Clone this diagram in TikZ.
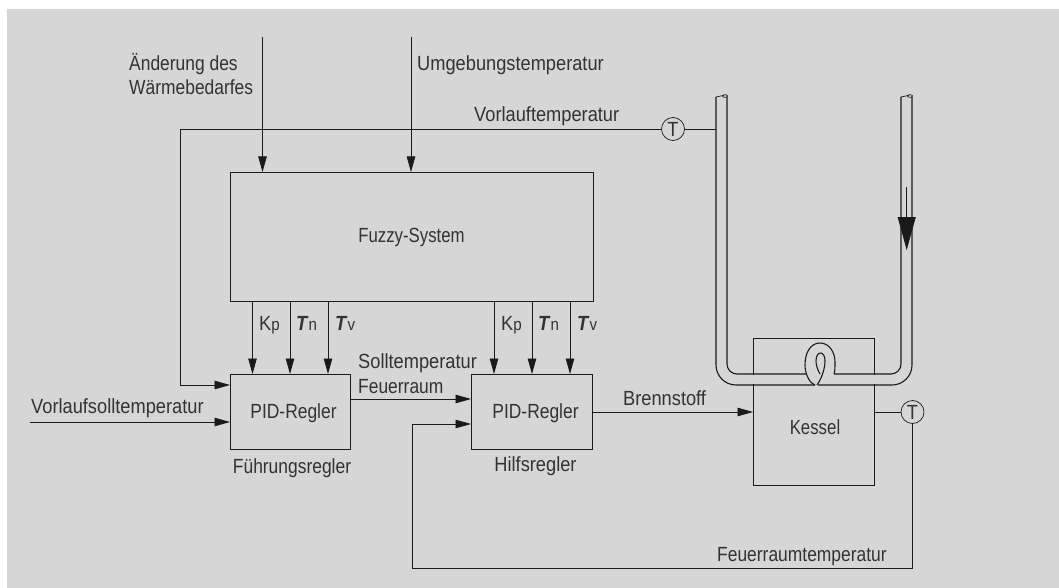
\documentclass[tikz,border=0pt]{standalone}
\usepackage{fontspec}
\setmainfont[FakeStretch=0.89]{Liberation Sans}
\newfontfamily\fmid[FakeStretch=0.85]{Liberation Sans}
\newfontfamily\fnar[FakeStretch=0.82]{Liberation Sans}
\usetikzlibrary{arrows.meta}
\definecolor{bggray}{HTML}{D6D6D6}
\definecolor{ink}{HTML}{1A1A1A}
\definecolor{txt}{HTML}{333333}
\tikzset{
  x=1pt,y=-1pt,
  block/.style={draw=ink,line width=1.1pt,inner sep=0pt,anchor=north west},
  conn/.style={draw=ink,line width=0.8pt},
  arr/.style={conn,-{Triangle[length=15.5pt,width=8.5pt]}},
  pipe/.style={draw=ink,line width=1.1pt},
  lbl/.style={text=txt,anchor=base west,inner sep=0pt,font=\fontsize{20.5}{22}\selectfont},
  clbl/.style={lbl,anchor=base},
  sensor/.style={circle,draw=ink,line width=0.7pt,minimum size=23pt,inner sep=0pt,text=txt,font=\fontsize{20.5}{22}\selectfont},
}
\newcommand{\Ti}[1]{\textbf{\textit{T}}{\fontsize{17}{17}\selectfont #1}}
\newcommand{\Kp}{K{\fontsize{17}{17}\selectfont p}}
\begin{document}
\begin{tikzpicture}
\useasboundingbox (0,0) rectangle (1059,588);
\fill[white] (0,0) rectangle (1059,588);
\fill[bggray] (7,9) rectangle (1059,588);
% blocks
\node[block,minimum width=363pt,minimum height=129pt] (fuzzy) at (230,172) {};
\node[block,minimum width=120pt,minimum height=75pt] (pid1) at (230,374) {};
\node[block,minimum width=121pt,minimum height=75pt] (pid2) at (471,374) {};
\node[block,minimum width=121pt,minimum height=147pt] (kessel) at (753,338) {};
\node[clbl] (fuzzytxt) at (411.5,242.5) {\fnar Fuzzy-System};
\node[clbl] (pid1txt) at (293.5,418) {\fmid PID-Regler};
\node[clbl] (pid2txt) at (535.5,418) {\fmid PID-Regler};
\node[clbl] (kesseltxt) at (815,434) {\fnar Kessel};
% sensors
\node[sensor] (t1) at (673,129) {T};
\node[sensor] (t2) at (912.5,412) {T};
% free ends and ports
\coordinate (in1) at (262.5,37);
\coordinate (in2) at (411,37);
\coordinate (pipeL) at (716,129);
\coordinate (corner1) at (180.5,129);
\coordinate (soll) at (30,422);
\coordinate (corner2) at (412,568);
\coordinate (corner3) at (412,424);
\foreach \n/\x in {a/252.5,b/290,c/328}{
  \coordinate (f\n) at (\x,301); \coordinate (p\n) at (\x,374);
}
\foreach \n/\x in {d/494,e/532,f/570}{
  \coordinate (f\n) at (\x,301); \coordinate (p\n) at (\x,374);
}
% connectors
\draw[arr] (in1) -- (in1 |- fuzzy.north);
\draw[arr] (in2) -- (in2 |- fuzzy.north);
\foreach \n in {a,b,c,d,e,f}{ \draw[arr] (f\n) -- (p\n); }
\draw[conn] (t1) -- (pipeL);
\draw[arr] (t1) -- (corner1) -- (corner1 |- 0,385) -- (pid1.west |- 0,385);
\draw[arr] (soll) -- (pid1.west |- soll);
\draw[arr] (pid1.east |- 0,399) -- (pid2.west |- 0,399);
\draw[arr] (pid2.east |- 0,412) -- (kessel.west |- 0,412);
\draw[conn] (kessel.east |- t2) -- (t2);
\draw[arr] (t2) -- (t2 |- corner2) -- (corner2) -- (corner3) -- (pid2.west |- corner3);
% gaps of the boiler outline inside the pipe
\fill[bggray] (750,375) rectangle (757,384);
\fill[bggray] (871,375) rectangle (878,384);
% pipe
\draw[pipe,rounded corners=20pt] (716,97) -- (716,385) -- (815,385);
\draw[pipe,rounded corners=10pt] (727,97) -- (727,374) -- (806,374);
\draw[pipe] (815,385) .. controls (808,382) and (805,372) .. (805,365)
   .. controls (805,352) and (811,343) .. (820,343)
   .. controls (829,343) and (835,352) .. (835,362) .. controls (835,367) and (835,371) .. (834,374);
\draw[pipe] (820,374) .. controls (817,369) and (816,364) .. (816,361)
   .. controls (816,356) and (818,353) .. (820.5,353)
   .. controls (823,353) and (825,356) .. (825,361)
   .. controls (825,368) and (822,378) .. (817,385);
\draw[pipe,rounded corners=10pt] (834,374) -- (901,374) -- (901,97);
\draw[pipe,rounded corners=20pt] (818,385) -- (912,385) -- (912,97);
% pipe ends
\draw[pipe,line width=.7pt] (716,97) .. controls (719,96) and (722,96) .. (724,95.5);
\draw[pipe,line width=.7pt] (725,96) ellipse[x radius=2.5,y radius=1.3];
\draw[pipe,line width=.7pt] (901,97) .. controls (904,96) and (907,96) .. (909,95.5);
\draw[pipe,line width=.7pt] (910,96) ellipse[x radius=2.5,y radius=1.3];
% flow arrow
\coordinate (flowA) at (906.7,187);
\coordinate (flowB) at (906.7,250);
\draw[conn,-{Triangle[length=33pt,width=18pt]}] (flowA) -- (flowB);
% labels
\node[lbl] (l1) at (129,71) {\fmid Änderung des};
\node[lbl] (l2) at (129,95) {\fmid Wärmebedarfes};
\node[lbl] (l3) at (417,71) {Umgebungstemperatur};
\node[lbl] (l4) at (474,122) {Vorlauftemperatur};
\node[lbl] (l5) at (31,413) {Vorlaufsolltemperatur};
\node[lbl] (l6) at (358,368) {Solltemperatur};
\node[lbl] (l7) at (358,393) {\fmid Feuerraum};
\node[lbl] (l8) at (623,405) {Brennstoff};
\node[lbl] (l9) at (717,561) {\fmid Feuerraumtemperatur};
\node[clbl] (l10) at (292,473) {\fmid Führungsregler};
\node[clbl] (l11) at (535.5,471) {Hilfsregler};
\node[lbl] (k1) at (259,330) {\Kp};
\node[lbl] (k2) at (296,330) {\Ti{n}};
\node[lbl] (k3) at (335,330) {\Ti{v}};
\node[lbl] (k4) at (501,330) {\Kp};
\node[lbl] (k5) at (538,330) {\Ti{n}};
\node[lbl] (k6) at (577,330) {\Ti{v}};
\end{tikzpicture}
\end{document}
